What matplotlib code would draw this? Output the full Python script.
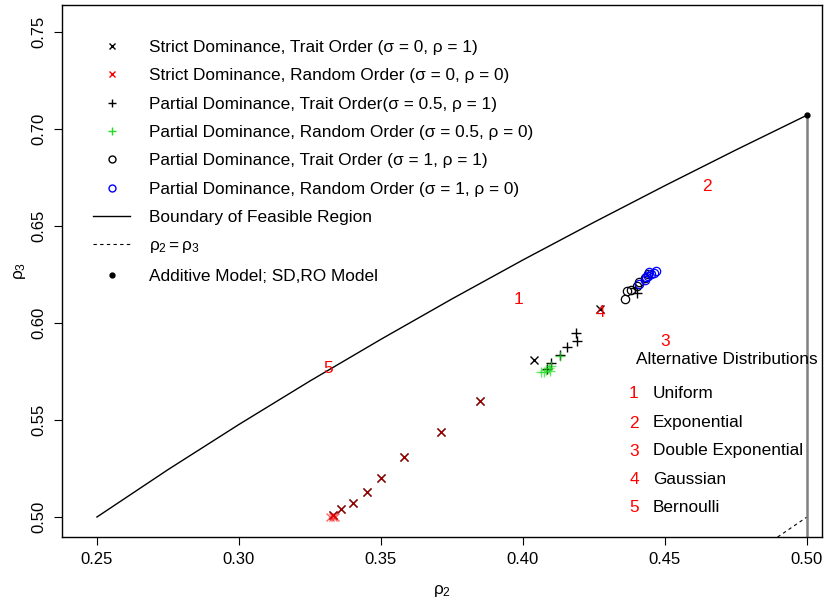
import numpy as np
import matplotlib
matplotlib.use('Agg')
import matplotlib.pyplot as plt
from matplotlib.lines import Line2D

plt.rcParams['font.family'] = ['Liberation Sans', 'DejaVu Sans']
plt.rcParams['mathtext.fontset'] = 'custom'
plt.rcParams['mathtext.rm'] = 'Liberation Sans'
plt.rcParams['mathtext.it'] = 'Liberation Sans'

# strict dominance (sigma = 0)
sd_to_r2 = [0.333, 0.336, 0.340, 0.345, 0.350, 0.358, 0.371, 0.385, 0.404, 0.427]
sd_to_r3 = [0.501, 0.504, 0.507, 0.513, 0.520, 0.531, 0.544, 0.560, 0.581, 0.607]
sd_ro_r2 = [0.332, 0.333, 0.334, 0.333, 0.336, 0.340, 0.345, 0.350, 0.358, 0.371, 0.385]
sd_ro_r3 = [0.500, 0.501, 0.500, 0.500, 0.504, 0.507, 0.513, 0.520, 0.531, 0.544, 0.560]

# partial dominance sigma = 0.5
pd5_to_r2 = [0.4186, 0.4190, 0.4155, 0.4130, 0.4100, 0.4085, 0.4400, 0.4395]
pd5_to_r3 = [0.5946, 0.5905, 0.5875, 0.5835, 0.5795, 0.5765, 0.6155, 0.6180]
pd5_ro_r2 = [0.4065, 0.4075, 0.4080, 0.4090, 0.4095, 0.4100, 0.4130]
pd5_ro_r3 = [0.5750, 0.5745, 0.5760, 0.5770, 0.5755, 0.5780, 0.5830]

# partial dominance sigma = 1
pd1_to_r2 = [0.4358, 0.4365, 0.4380, 0.4400, 0.4410, 0.4430, 0.4440]
pd1_to_r3 = [0.6124, 0.6165, 0.6170, 0.6190, 0.6210, 0.6230, 0.6250]
pd1_ro_r2 = [0.4410, 0.4430, 0.4435, 0.4440, 0.4445, 0.4450, 0.4460, 0.4470]
pd1_ro_r3 = [0.6200, 0.6220, 0.6235, 0.6240, 0.6265, 0.6250, 0.6260, 0.6270]

# boundary of feasible region
bound_r2 = [0.25, 0.275, 0.30, 0.325, 0.35, 0.375, 0.40, 0.425, 0.45, 0.475, 0.50]
bound_r3 = [0.500, 0.5244, 0.5477, 0.5701, 0.5916, 0.6124, 0.6325, 0.6519, 0.6708, 0.6892, 0.7071]

diag = [0.0, 0.5]
additive = (0.5, 0.7071)

dist_nums = ['1', '2', '3', '4', '5']
dist_names = ['Uniform', 'Exponential', 'Double Exponential', 'Gaussian', 'Bernoulli']
dist_r2 = [0.3984, 0.4647, 0.4500, 0.4274, 0.3315]
dist_r3 = [0.6119, 0.6701, 0.5907, 0.6052, 0.5768]

legend_labels = [
    'Strict Dominance, Trait Order (σ = 0, ρ = 1)',
    'Strict Dominance, Random Order (σ = 0, ρ = 0)',
    'Partial Dominance, Trait Order(σ = 0.5, ρ = 1)',
    'Partial Dominance, Random Order (σ = 0.5, ρ = 0)',
    'Partial Dominance, Trait Order (σ = 1, ρ = 1)',
    'Partial Dominance, Random Order (σ = 1, ρ = 0)',
    'Boundary of Feasible Region',
    r'$\rho_2 = \rho_3$',
    'Additive Model; SD,RO Model',
]

green = '#22dd22'
fs = 12.4

fig = plt.figure(figsize=(8.3, 6.0), dpi=100)
ax = fig.add_axes([62 / 830, 1 - 537 / 600, 760 / 830, 532 / 600])

ax.plot(bound_r2, bound_r3, color='black', lw=1)
ax.plot(diag, diag, color='black', lw=0.8, ls=(0, (3, 3)))
ax.plot([additive[0], additive[0]], [additive[1], 0], color='#808080', lw=1.8)
ax.plot(*additive, 'o', color='black', ms=3.5)

ms = 6
ax.plot(sd_to_r2, sd_to_r3, 'x', color='black', ms=ms, mew=1)
ax.plot(sd_ro_r2, sd_ro_r3, 'x', color='red', ms=ms, mew=1, alpha=0.6)
ax.plot(pd5_to_r2, pd5_to_r3, '+', color='black', ms=ms + 1, mew=1)
ax.plot(pd5_ro_r2, pd5_ro_r3, '+', color=green, ms=ms + 1, mew=1, alpha=0.7)
ax.plot(pd1_to_r2, pd1_to_r3, 'o', mfc='none', mec='black', ms=ms, mew=0.9)
ax.plot(pd1_ro_r2, pd1_ro_r3, 'o', mfc='none', mec='blue', ms=ms, mew=0.9)

for n, x, y in zip(dist_nums, dist_r2, dist_r3):
    ax.text(x, y, n, color='red', fontsize=fs, ha='center', va='center')

ax.set_xlim(0.2377, 0.5053)
ax.set_ylim(0.4897, 0.7639)
ax.set_xticks([0.25, 0.30, 0.35, 0.40, 0.45, 0.50])
ax.set_xticklabels(['0.25', '0.30', '0.35', '0.40', '0.45', '0.50'])
ax.set_yticks([0.50, 0.55, 0.60, 0.65, 0.70, 0.75])
ax.set_yticklabels(['0.50', '0.55', '0.60', '0.65', '0.70', '0.75'], rotation=90, va='center')
ax.tick_params(labelsize=12, length=6, width=0.8, pad=5)
for s in ax.spines.values():
    s.set_linewidth(1)
ax.set_xlabel(r'$\rho_2$', fontsize=fs, labelpad=11)
ax.set_ylabel(r'$\rho_3$', fontsize=fs, labelpad=3)

handles = [
    Line2D([], [], ls='none', marker='x', color='black', ms=5),
    Line2D([], [], ls='none', marker='x', color='red', ms=5),
    Line2D([], [], ls='none', marker='+', color='black', ms=6),
    Line2D([], [], ls='none', marker='+', color=green, ms=6),
    Line2D([], [], ls='none', marker='o', mfc='none', mec='black', ms=5),
    Line2D([], [], ls='none', marker='o', mfc='none', mec='blue', ms=5),
    Line2D([], [], color='black', lw=1),
    Line2D([], [], color='black', lw=0.8, ls=(0, (3, 3))),
    Line2D([], [], ls='none', marker='o', color='black', ms=3.5),
]
ax.legend(handles, legend_labels, loc='upper left', bbox_to_anchor=((93 - 62) / 760, (537 - 40) / 532),
          frameon=False, fontsize=fs, handlelength=2.15, handletextpad=1.1,
          labelspacing=0.77, borderpad=0, borderaxespad=0)

# alternative distributions key
def axpt(px, py):
    return (px - 62) / 760, (537 - py) / 532

ax.text(*axpt(727, 360), 'Alternative Distributions', transform=ax.transAxes,
        ha='center', va='center', fontsize=fs)
key_y = [394, 423, 451, 480, 508]
for n, name, py in zip(dist_nums, dist_names, key_y):
    ax.text(*axpt(634, py), n, color='red', transform=ax.transAxes, ha='center', va='center', fontsize=fs)
    ax.text(*axpt(653, py), name, transform=ax.transAxes, ha='left', va='center', fontsize=fs)

fig.savefig('out.png', dpi=100)
